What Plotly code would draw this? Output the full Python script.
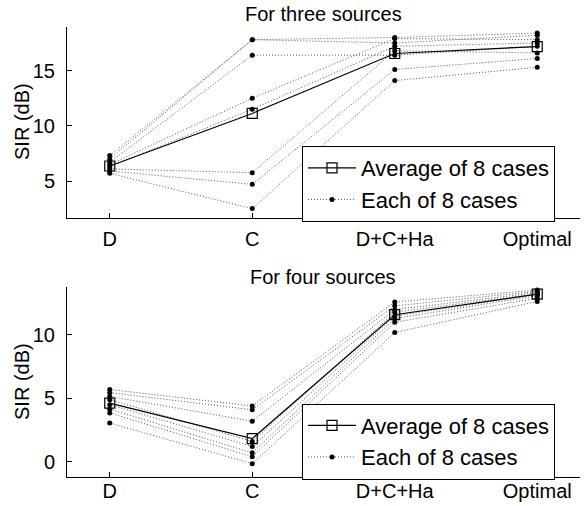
import plotly.graph_objects as go

categories = ["D", "C", "D+C+Ha", "Optimal"]

# For three sources: each case = values at D, C, D+C+Ha, Optimal
three_cases = [
    [7.3, 17.8, 18.0, 18.4],
    [7.0, 17.8, 17.5, 18.2],
    [6.7, 16.4, 16.4, 17.2],
    [6.5, 12.5, 17.9, 17.8],
    [6.3, 11.5, 17.2, 17.5],
    [6.1, 5.75, 16.8, 16.6],
    [5.9, 4.7, 15.1, 16.1],
    [5.7, 2.5, 14.1, 15.3],
]
three_avg = [6.36, 11.12, 16.55, 17.18]

# For four sources
four_cases = [
    [5.7, 4.4, 12.6, 13.55],
    [5.45, 4.1, 12.3, 13.45],
    [5.15, 3.2, 12.0, 13.35],
    [4.9, 1.6, 11.8, 13.25],
    [4.5, 1.2, 11.5, 13.2],
    [4.15, 0.7, 11.3, 13.1],
    [3.85, 0.4, 11.0, 12.9],
    [3.05, -0.15, 10.2, 12.65],
]
four_avg = [4.62, 1.82, 11.6, 13.22]

W, H = 586, 506
FONT = "Liberation Sans, Arial, sans-serif"
xpos = [1, 2, 3, 4]

fig = go.Figure()

def add_panel(cases, avg, xa, ya, legend):
    for i, c in enumerate(cases):
        fig.add_trace(go.Scatter(
            x=xpos, y=c, xaxis=xa, yaxis=ya, mode="lines+markers",
            line=dict(color="#555555", width=1, dash="1px,2px"),
            marker=dict(color="black", size=5, symbol="circle"),
            name="Each of 8 cases", showlegend=(i == 0), legend=legend,
            legendrank=2,
        ))
    fig.add_trace(go.Scatter(
        x=xpos, y=avg, xaxis=xa, yaxis=ya, mode="lines+markers",
        line=dict(color="black", width=1.2),
        marker=dict(symbol="square-open", size=10, color="black",
                    line=dict(width=1.2, color="black")),
        name="Average of 8 cases", showlegend=True, legend=legend,
        legendrank=1,
    ))

add_panel(three_cases, three_avg, "x", "y", "legend")
add_panel(four_cases, four_avg, "x2", "y2", "legend2")

xd = [67 / W, 580 / W]
top_dom = [1 - 218 / H, 1 - 27 / H]
bot_dom = [1 - 476.7 / H, 1 - 286.7 / H]

xcommon = dict(
    domain=xd, range=[0.7, 4.3], tickmode="array", tickvals=xpos,
    ticktext=categories, ticks="inside", ticklen=5, tickcolor="black",
    showline=True, linecolor="black", linewidth=1, showgrid=False,
    zeroline=False, automargin=False,
    tickfont=dict(family=FONT, size=20, color="black"),
)
ycommon = dict(
    ticks="inside", ticklen=5, tickcolor="black", showline=True,
    linecolor="black", linewidth=1, showgrid=False, zeroline=False,
    automargin=False, ticklabelstandoff=7,
    tickfont=dict(family=FONT, size=20, color="black"),
)

legcommon = dict(xanchor="left", yanchor="middle", bgcolor="white",
                 bordercolor="black", borderwidth=1,
                 font=dict(family=FONT, size=22, color="black"),
                 itemwidth=48, tracegroupgap=0)

fig.update_layout(
    width=W, height=H, paper_bgcolor="white", plot_bgcolor="white",
    margin=dict(l=0, r=0, t=0, b=0, autoexpand=False),
    xaxis=dict(**xcommon, anchor="y", ticklabelstandoff=3),
    yaxis=dict(**ycommon, domain=top_dom, range=[1.65, 18.95],
               tickvals=[5, 10, 15], anchor="x"),
    xaxis2=dict(**xcommon, anchor="y2", ticklabelstandoff=-4),
    yaxis2=dict(**ycommon, domain=bot_dom, range=[-1.18, 13.81],
                tickvals=[0, 5, 10], anchor="x2"),
    legend=dict(x=302 / W, y=1 - 184 / H, **legcommon),
    legend2=dict(x=302 / W, y=1 - 441.5 / H, **legcommon),
    showlegend=True,
)

ann_font = dict(family=FONT, size=20, color="black")
fig.add_annotation(text="For three sources", x=(xd[0] + xd[1]) / 2,
                   y=1 - 14 / H, xref="paper", yref="paper",
                   xanchor="center", yanchor="middle",
                   showarrow=False, font=ann_font)
fig.add_annotation(text="For four sources", x=(xd[0] + xd[1]) / 2,
                   y=1 - 277 / H, xref="paper", yref="paper",
                   xanchor="center", yanchor="middle",
                   showarrow=False, font=ann_font)
fig.add_annotation(text="SIR (dB)", x=22 / W, y=1 - 122 / H, xref="paper",
                   yref="paper", xanchor="center", yanchor="middle",
                   showarrow=False, textangle=-90, font=ann_font)
fig.add_annotation(text="SIR (dB)", x=22 / W, y=1 - 382 / H, xref="paper",
                   yref="paper", xanchor="center", yanchor="middle",
                   showarrow=False, textangle=-90, font=ann_font)

fig.write_html("out.html", config={"displayModeBar": False},
               post_script="document.body.style.margin='0';"
                           "document.body.style.padding='0';")
